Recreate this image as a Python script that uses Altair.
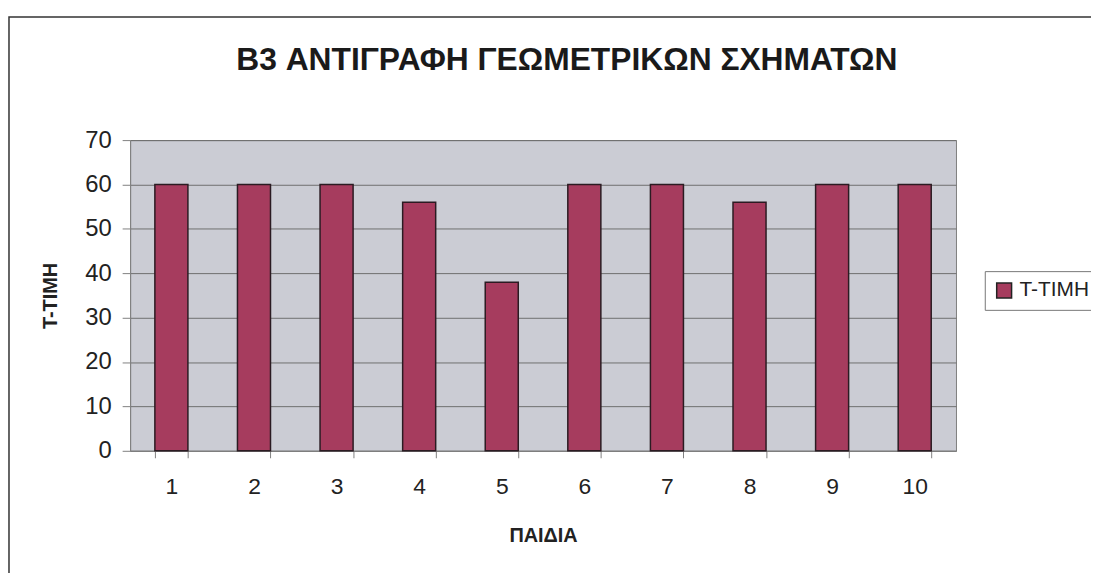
import altair as alt
import pandas as pd

children = ["1", "2", "3", "4", "5", "6", "7", "8", "9", "10"]
t_scores = [60, 60, 60, 56, 38, 60, 60, 56, 60, 60]
series_name = "T-TIMH"
y_ticks = [0, 10, 20, 30, 40, 50, 60, 70]

df = pd.DataFrame({"child": children, "value": t_scores, "series": [series_name] * len(children)})

FONT = "Liberation Sans"

bars = alt.Chart(df).mark_bar(stroke="#2b1b22", strokeWidth=1.5).encode(
    x=alt.X("child:O", sort=children,
            scale=alt.Scale(paddingInner=0.6, paddingOuter=0.3),
            axis=alt.Axis(title="ΠΑΙΔΙΑ", labelAngle=0, tickBand="extent",
                          tickSize=7, labelPadding=18, titlePadding=27,
                          domainColor="#808080", tickColor="#808080",
                          labelFontSize=23, labelFont=FONT, labelColor="#222222",
                          titleFontSize=20, titleFont=FONT, titleFontWeight="bold",
                          titleColor="#222222", grid=False)),
    y=alt.Y("value:Q", scale=alt.Scale(domain=[0, 70], nice=False),
            axis=alt.Axis(title="T-TIMH", values=y_ticks, tickSize=8, labelPadding=11,
                          titlePadding=24, domainColor="#808080", tickColor="#808080",
                          gridColor="#6f6f6f", gridWidth=1,
                          labelFontSize=24, labelFont=FONT, labelColor="#222222",
                          titleFontSize=20, titleFont=FONT, titleFontWeight="bold",
                          titleColor="#222222")),
    color=alt.Color("series:N", scale=alt.Scale(range=["#a63c5e"]),
                    legend=alt.Legend(title=None, orient="none", legendX=861, legendY=132,
                                      symbolType="square", symbolSize=225,
                                      symbolStrokeColor="#222222", symbolStrokeWidth=1.5,
                                      labelFontSize=21, labelFont=FONT, labelColor="#222222",
                                      strokeColor="#777777", padding=9, labelOffset=5,
                                      fillColor="white")),
)

frame = alt.Chart(pd.DataFrame({"k": [0]})).mark_rect(
    fill=None, stroke="#333333", strokeWidth=1.5
).encode(x=alt.value(-122), x2=alt.value(1100), y=alt.value(-124), y2=alt.value(700))

chart = alt.layer(frame, bars).properties(
    width=832, height=313,
    padding={"left": 123, "top": 131, "right": 136, "bottom": 121},
    autosize=alt.AutoSizeParams(type="none"),
    title=alt.TitleParams("B3 ΑΝΤΙΓΡΑΦΗ ΓΕΩΜΕΤΡΙΚΩΝ ΣΧΗΜΑΤΩΝ", fontSize=32, font=FONT,
                          fontWeight="bold", color="#1a1a1a", anchor="middle", dx=24,
                          baseline="alphabetic", offset=0, dy=86, frame="group"),
).configure_view(fill="#cbccd4", stroke="#808080", strokeWidth=1)

chart.save("out.html", embed_options={"renderer": "svg", "actions": False})
